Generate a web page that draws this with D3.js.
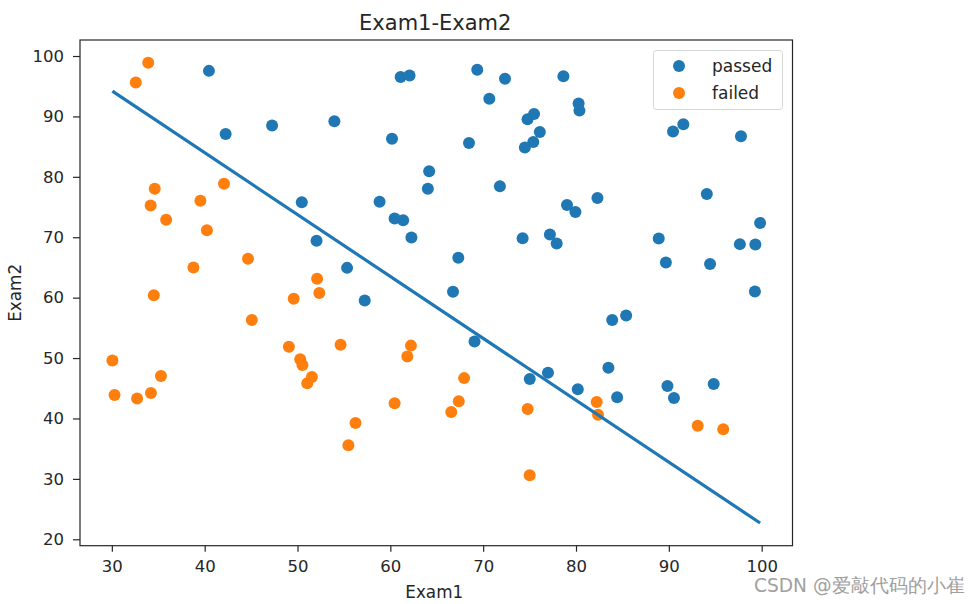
<!DOCTYPE html>
<html>
<head>
<meta charset="utf-8">
<script src="https://cdn.jsdelivr.net/npm/d3@7/dist/d3.min.js"></script>
<style>
body{margin:0;background:#fff;}
svg text{font-family:"DejaVu Sans",sans-serif;fill:#262626;}
</style>
</head>
<body>
<svg id="chart" width="980" height="604"></svg>
<script>
// passed (admitted = 1)
const passedExam1 = [60.18,79.03,61.11,75.02,76.10,84.43,82.31,69.36,53.97,69.07,70.66,76.98,89.68,77.92,62.27,80.19,61.38,85.40,52.05,64.18,83.90,94.44,77.19,97.77,62.07,91.56,79.94,99.27,90.55,97.65,74.25,71.80,75.40,40.46,80.28,66.75,64.04,72.35,60.46,58.84,99.83,47.26,50.46,88.91,94.83,67.32,57.24,80.37,68.47,75.48,78.64,94.09,90.45,74.49,89.85,83.49,42.26,99.32,55.34,74.78];
const passedExam2 = [86.31,75.34,96.51,46.55,87.42,43.53,76.48,97.72,89.21,52.74,92.93,47.58,65.80,68.97,69.95,44.82,72.81,57.05,69.43,80.91,56.31,65.57,70.46,86.73,96.77,88.70,74.16,61.00,43.39,68.86,69.82,78.45,85.76,97.54,92.12,60.99,78.03,96.23,73.09,75.86,72.37,88.48,75.81,69.80,45.69,66.59,59.51,90.96,85.59,90.42,96.65,77.16,87.51,84.85,45.36,48.38,87.10,68.78,64.93,89.53];
// failed (admitted = 0)
const failedExam1 = [34.62,30.29,35.85,45.08,95.86,75.01,39.54,67.95,67.37,50.53,34.21,93.11,61.83,38.79,52.11,40.24,54.64,33.92,74.79,34.18,51.55,82.37,51.05,62.22,34.52,50.29,49.59,32.58,35.29,56.25,30.06,44.67,66.56,49.07,32.72,60.46,82.23,42.08,52.35,55.48];
const failedExam2 = [78.02,43.89,72.90,56.32,38.23,30.60,76.04,46.68,42.84,48.86,44.21,38.80,50.26,65.00,63.13,71.17,52.21,98.87,41.57,75.24,46.86,40.62,45.82,52.06,60.40,49.80,59.81,95.60,47.02,39.26,49.59,66.45,41.09,51.88,43.31,42.51,42.72,78.84,60.77,35.57];
// decision boundary endpoints
const boundaryExam1 = [30.06, 99.83];
const boundaryExam2 = [94.18, 22.70];
const xTicks = [30,40,50,60,70,80,90,100];
const yTicks = [20,30,40,50,60,70,80,90,100];
const seriesNames = ["passed","failed"];
const seriesColors = ["#1f77b4","#ff7f0e"];

const svg = d3.select("#chart");
const L = 80, R = 792.5, T = 40, B = 545.7;
const x = d3.scaleLinear().domain([26.57, 103.32]).range([L, R]);
const y = d3.scaleLinear().domain([18.94, 102.65]).range([B, T]);

const passed = passedExam1.map((v,i)=>[v,passedExam2[i]]);
const failed = failedExam1.map((v,i)=>[v,failedExam2[i]]);

svg.append("g").selectAll("circle").data(passed).join("circle")
  .attr("cx",d=>x(d[0])).attr("cy",d=>y(d[1])).attr("r",6).attr("fill",seriesColors[0]);
svg.append("g").selectAll("circle").data(failed).join("circle")
  .attr("cx",d=>x(d[0])).attr("cy",d=>y(d[1])).attr("r",6).attr("fill",seriesColors[1]);

const lineData = boundaryExam1.map((v,i)=>[v,boundaryExam2[i]]);
svg.append("path").datum(lineData)
  .attr("d", d3.line().x(d=>x(d[0])).y(d=>y(d[1])))
  .attr("stroke",seriesColors[0]).attr("stroke-width",3.2).attr("fill","none");

// axes
const xAxis = svg.append("g").attr("transform",`translate(0,${B})`)
  .call(d3.axisBottom(x).tickValues(xTicks).tickSize(6).tickPadding(8.5));
const yAxis = svg.append("g").attr("transform",`translate(${L},0)`)
  .call(d3.axisLeft(y).tickValues(yTicks).tickSize(7).tickPadding(9));
[xAxis,yAxis].forEach(a=>{
  a.select(".domain").remove();
  a.selectAll("line").attr("stroke","#262626").attr("stroke-width",1.2);
  a.selectAll("text").attr("font-size",16.5).attr("font-family","DejaVu Sans").attr("fill","#262626");
});
svg.append("rect").attr("x",L).attr("y",T).attr("width",R-L).attr("height",B-T)
  .attr("fill","none").attr("stroke","#262626").attr("stroke-width",1.2);

// labels
svg.append("text").attr("x",(L+R)/2-1).attr("y",30).attr("text-anchor","middle")
  .attr("font-size",21).text("Exam1-Exam2");
svg.append("text").attr("x",(L+R)/2-2).attr("y",598).attr("text-anchor","middle")
  .attr("font-size",16.8).text("Exam1");
svg.append("text").attr("transform",`translate(21,${(T+B)/2}) rotate(-90)`).attr("text-anchor","middle")
  .attr("font-size",16.8).text("Exam2");

// legend
const lg = svg.append("g");
lg.append("rect").attr("x",653.5).attr("y",50.5).attr("width",129).attr("height",59).attr("rx",3)
  .attr("fill","#fff").attr("fill-opacity",0.8).attr("stroke","#d6d6d6");
seriesNames.forEach((n,i)=>{
  lg.append("circle").attr("cx",679).attr("cy",66+i*27).attr("r",6).attr("fill",seriesColors[i]);
  lg.append("text").attr("x",712).attr("y",72+i*26.5).attr("font-size",17).text(n);
});

// watermark
svg.append("text").attr("x",754).attr("y",591.5).attr("font-size",18.6)
  .attr("font-family","'Noto Sans CJK SC',sans-serif").style("fill","#a0a0a0").text("CSDN @爱敲代码的小崔");
</script>
</body>
</html>
